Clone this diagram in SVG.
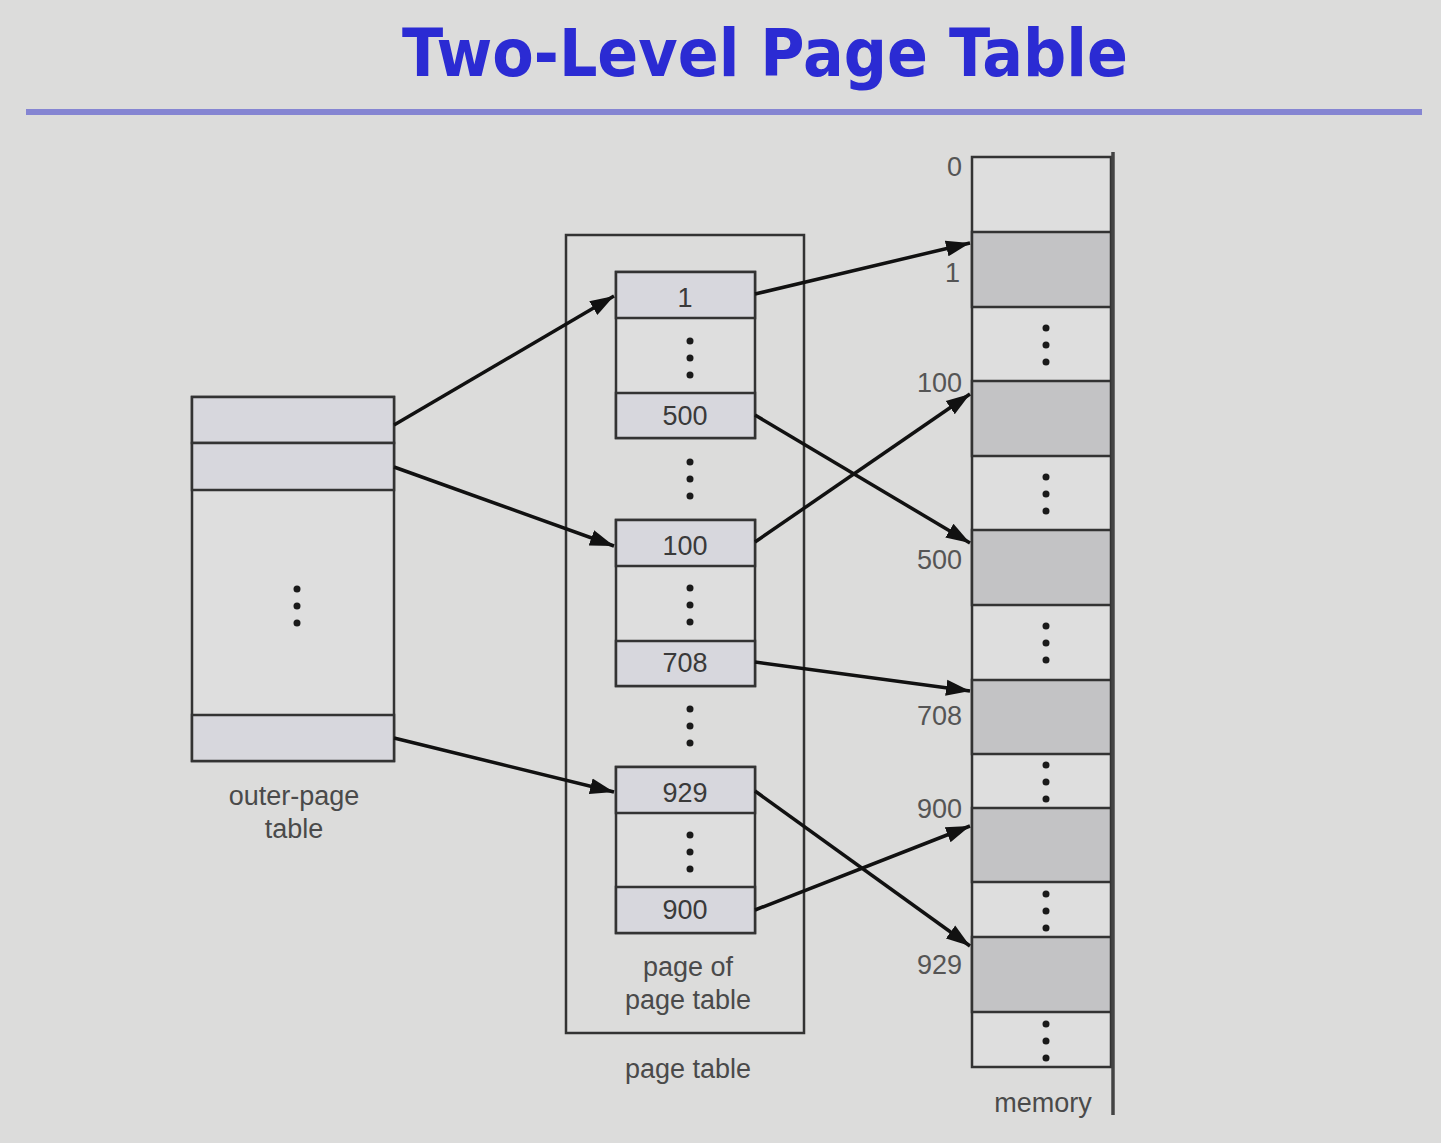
<svg xmlns="http://www.w3.org/2000/svg" width="1441" height="1143" viewBox="0 0 1441 1143">
  <defs>
    <marker id="arrow" markerUnits="userSpaceOnUse" markerWidth="26" markerHeight="18" refX="24" refY="9" orient="auto">
      <path d="M0,1 L24,9 L0,17 z" fill="#111"/>
    </marker>
    <style>
      .title { font-family: "DejaVu Sans", Verdana, sans-serif; font-weight: bold; font-size: 66px; fill: #2b2bd3; }
      .lbl { font-family: "Liberation Sans", Arial, sans-serif; font-size: 27px; fill: #4a4a4a; }
      .num { font-family: "Liberation Sans", Arial, sans-serif; font-size: 27px; fill: #3a3a3a; text-anchor: middle; }
      .addr { font-family: "Liberation Sans", Arial, sans-serif; font-size: 27px; fill: #555; text-anchor: end; }
      .box { stroke: #333; stroke-width: 2.5; }
      .entry { fill: #d7d7dd; }
      .blank { fill: #dedede; }
      .frame { fill: #c3c3c5; }
      .dot { fill: #1a1a1a; }
      .conn { stroke: #111; stroke-width: 3.5; fill: none; marker-end: url(#arrow); }
    </style>
  </defs>

  <rect width="1441" height="1143" fill="#dcdcdb"/>

  <!-- heading -->
  <text class="title" x="402" y="76" textLength="726" lengthAdjust="spacingAndGlyphs">Two-Level Page Table</text>
  <line x1="26" y1="112" x2="1422" y2="112" stroke="#8585d2" stroke-width="6"/>

  <!-- outer page table -->
  <g id="outer-page-table">
    <rect class="box blank" x="192" y="397" width="202" height="364"/>
    <rect class="box entry" x="192" y="397" width="202" height="46"/>
    <rect class="box entry" x="192" y="443" width="202" height="47"/>
    <rect class="box entry" x="192" y="715" width="202" height="46"/>
    <circle class="dot" cx="297" cy="589" r="3.5"/>
    <circle class="dot" cx="297" cy="606" r="3.5"/>
    <circle class="dot" cx="297" cy="623" r="3.5"/>
    <text class="lbl" x="294" y="805" text-anchor="middle">outer-page</text>
    <text class="lbl" x="294" y="838" text-anchor="middle">table</text>
  </g>

  <!-- page table container -->
  <g id="page-table">
    <rect x="566" y="235" width="238" height="798" fill="none" stroke="#333" stroke-width="2.5"/>
    <text class="lbl" x="688" y="1078" text-anchor="middle">page table</text>
    <text class="lbl" x="688" y="976" text-anchor="middle">page of</text>
    <text class="lbl" x="688" y="1009" text-anchor="middle">page table</text>
    <circle class="dot" cx="690" cy="462" r="3.5"/>
    <circle class="dot" cx="690" cy="479" r="3.5"/>
    <circle class="dot" cx="690" cy="496" r="3.5"/>
    <circle class="dot" cx="690" cy="709" r="3.5"/>
    <circle class="dot" cx="690" cy="726" r="3.5"/>
    <circle class="dot" cx="690" cy="743" r="3.5"/>
  </g>

  <!-- pages of the page table -->
  <g id="page-a">
    <rect class="box blank" x="616" y="272" width="139" height="166"/>
    <rect class="box entry" x="616" y="272" width="139" height="46"/>
    <rect class="box entry" x="616" y="393" width="139" height="45"/>
    <text class="num" x="685" y="307">1</text>
    <text class="num" x="685" y="425">500</text>
    <circle class="dot" cx="690" cy="341" r="3.5"/>
    <circle class="dot" cx="690" cy="358" r="3.5"/>
    <circle class="dot" cx="690" cy="375" r="3.5"/>
  </g>
  <g id="page-b">
    <rect class="box blank" x="616" y="520" width="139" height="166"/>
    <rect class="box entry" x="616" y="520" width="139" height="46"/>
    <rect class="box entry" x="616" y="641" width="139" height="45"/>
    <text class="num" x="685" y="555">100</text>
    <text class="num" x="685" y="672">708</text>
    <circle class="dot" cx="690" cy="588" r="3.5"/>
    <circle class="dot" cx="690" cy="605" r="3.5"/>
    <circle class="dot" cx="690" cy="622" r="3.5"/>
  </g>
  <g id="page-c">
    <rect class="box blank" x="616" y="767" width="139" height="166"/>
    <rect class="box entry" x="616" y="767" width="139" height="46"/>
    <rect class="box entry" x="616" y="887" width="139" height="46"/>
    <text class="num" x="685" y="802">929</text>
    <text class="num" x="685" y="919">900</text>
    <circle class="dot" cx="690" cy="835" r="3.5"/>
    <circle class="dot" cx="690" cy="852" r="3.5"/>
    <circle class="dot" cx="690" cy="869" r="3.5"/>
  </g>

  <!-- physical memory -->
  <g id="memory">
    <rect class="box blank" x="972" y="157" width="139" height="910"/>
    <rect class="box frame" x="972" y="232" width="139" height="75"/>
    <rect class="box frame" x="972" y="381" width="139" height="75"/>
    <rect class="box frame" x="972" y="530" width="139" height="75"/>
    <rect class="box frame" x="972" y="680" width="139" height="74"/>
    <rect class="box frame" x="972" y="808" width="139" height="74"/>
    <rect class="box frame" x="972" y="937" width="139" height="75"/>
    <line x1="1113" y1="152" x2="1113" y2="1115" stroke="#444" stroke-width="3.5"/>
    <circle class="dot" cx="1046" cy="328" r="3.5"/>
    <circle class="dot" cx="1046" cy="345" r="3.5"/>
    <circle class="dot" cx="1046" cy="362" r="3.5"/>
    <circle class="dot" cx="1046" cy="477" r="3.5"/>
    <circle class="dot" cx="1046" cy="494" r="3.5"/>
    <circle class="dot" cx="1046" cy="511" r="3.5"/>
    <circle class="dot" cx="1046" cy="626" r="3.5"/>
    <circle class="dot" cx="1046" cy="643" r="3.5"/>
    <circle class="dot" cx="1046" cy="660" r="3.5"/>
    <circle class="dot" cx="1046" cy="765" r="3.5"/>
    <circle class="dot" cx="1046" cy="782" r="3.5"/>
    <circle class="dot" cx="1046" cy="799" r="3.5"/>
    <circle class="dot" cx="1046" cy="894" r="3.5"/>
    <circle class="dot" cx="1046" cy="911" r="3.5"/>
    <circle class="dot" cx="1046" cy="928" r="3.5"/>
    <circle class="dot" cx="1046" cy="1024" r="3.5"/>
    <circle class="dot" cx="1046" cy="1041" r="3.5"/>
    <circle class="dot" cx="1046" cy="1058" r="3.5"/>
    <text class="addr" x="962" y="176">0</text>
    <text class="addr" x="960" y="282">1</text>
    <text class="addr" x="962" y="392">100</text>
    <text class="addr" x="962" y="569">500</text>
    <text class="addr" x="962" y="725">708</text>
    <text class="addr" x="962" y="818">900</text>
    <text class="addr" x="962" y="974">929</text>
    <text class="lbl" x="1043" y="1112" text-anchor="middle">memory</text>
  </g>

  <!-- pointers -->
  <g id="connectors">
    <line class="conn" x1="394" y1="425" x2="614" y2="296"/>
    <line class="conn" x1="394" y1="467" x2="614" y2="546"/>
    <line class="conn" x1="394" y1="738" x2="614" y2="792"/>
    <line class="conn" x1="755" y1="294" x2="970" y2="243"/>
    <line class="conn" x1="755" y1="415" x2="970" y2="543"/>
    <line class="conn" x1="755" y1="542" x2="970" y2="394"/>
    <line class="conn" x1="755" y1="662" x2="970" y2="691"/>
    <line class="conn" x1="755" y1="791" x2="970" y2="946"/>
    <line class="conn" x1="755" y1="910" x2="970" y2="826"/>
  </g>
</svg>
